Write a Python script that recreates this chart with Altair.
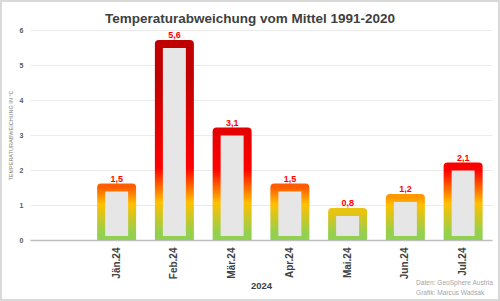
import altair as alt
import pandas as pd

months = ["Jän.24", "Feb.24", "Mär.24", "Apr.24", "Mai.24", "Jun.24", "Jul.24"]
values = [1.5, 5.6, 3.1, 1.5, 0.8, 1.2, 2.1]
domain = [""] + months
y_ticks = [0, 1, 2, 3, 4, 5, 6]
credits = ["Daten: GeoSphere Austria", "Grafik: Marcus Wadsak"]

# absolute colour stops of the bar gradient (value in °C -> colour)
color_stops = [(0.2, "#92d050"), (1.1, "#ffc000"), (2.1, "#ff0000"), (4.8, "#c00000")]

FONT = "Liberation Sans"
PX_PER_UNIT = 210 / 6.0


def hex2rgb(h):
    return tuple(int(h[i:i + 2], 16) for i in (1, 3, 5))


def rgb2hex(c):
    return "#%02x%02x%02x" % tuple(int(round(v)) for v in c)


def color_at(v):
    if v <= color_stops[0][0]:
        return color_stops[0][1]
    if v >= color_stops[-1][0]:
        return color_stops[-1][1]
    for (a0, c0), (a1, c1) in zip(color_stops, color_stops[1:]):
        if a0 <= v <= a1:
            t = (v - a0) / (a1 - a0)
            r0, r1 = hex2rgb(c0), hex2rgb(c1)
            return rgb2hex([r0[i] + (r1[i] - r0[i]) * t for i in range(3)])


def gradient_for(v):
    top = v + 4 / PX_PER_UNIT
    stops = [{"offset": 0, "color": color_at(0)}]
    for a, c in color_stops:
        if 0 < a < top:
            stops.append({"offset": a / top, "color": c})
    stops.append({"offset": 1, "color": color_at(top)})
    return alt.LinearGradient(gradient="linear", x1=0, x2=0, y1=1, y2=0, stops=stops)


df = pd.DataFrame({"month": months, "value": values})

x_enc = alt.X(
    "month:N",
    scale=alt.Scale(domain=domain, paddingInner=0.31, paddingOuter=0.155),
    sort=domain,
    axis=alt.Axis(
        title="2024",
        labelAngle=-90,
        labelFontSize=10,
        labelFontWeight="bold",
        labelColor="#404040",
        labelFont=FONT,
        labelPadding=7,
        ticks=False,
        domainColor="#bfbfbf",
        domainWidth=1.5,
        titleFont=FONT,
        titleFontSize=9.5,
        titleFontWeight="bold",
        titleColor="#404040",
        titlePadding=2,
    ),
)
y_enc = alt.Y(
    "value:Q",
    scale=alt.Scale(domain=[0, 6], nice=False),
    axis=alt.Axis(
        title="TEMPERATURABWEICHUNG IN °C",
        values=y_ticks,
        labelFontSize=7,
        labelFontWeight="bold",
        labelColor="#595959",
        labelFont=FONT,
        labelPadding=7,
        domain=False,
        ticks=False,
        gridColor="#ebebeb",
        titleFont=FONT,
        titleFontSize=5.5,
        titleFontWeight="normal",
        titleColor="#7f7f7f",
        titlePadding=6,
    ),
)

base = alt.Chart(df)

layers = []
for m, v in zip(months, values):
    layers.append(
        base.transform_filter(alt.datum.month == m)
        .mark_bar(
            fill="#e6e6e6",
            stroke=gradient_for(v),
            strokeWidth=8,
            strokeJoin="round",
            size=31,
            clip=True,
        )
        .encode(x=x_enc, y=y_enc)
    )

labels = (
    base.transform_calculate(lbl="replace(format(datum.value, '.1f'), '.', ',')")
    .mark_text(
        color="#ff0000",
        font=FONT,
        fontSize=9,
        fontWeight="bold",
        baseline="alphabetic",
        dy=-6,
    )
    .encode(x=x_enc, y=y_enc, text="lbl:N")
)

one = pd.DataFrame({"a": [0]})
credit_layers = []
for txt, ypos in zip(credits, [253, 263]):
    credit_layers.append(
        alt.Chart(one)
        .mark_text(
            text=txt, align="left", baseline="middle", font=FONT, fontSize=6.6, color="#a6a6a6"
        )
        .encode(x=alt.value(386), y=alt.value(ypos))
    )

frame = (
    alt.Chart(one)
    .mark_rect(fill="transparent", stroke="#d9d9d9", strokeWidth=2)
    .encode(x=alt.value(-29), x2=alt.value(469), y=alt.value(-29), y2=alt.value(270))
)

chart = (
    alt.layer(*layers, labels, *credit_layers, frame)
    .properties(
        width=462,
        height=210,
        autosize=alt.AutoSizeParams(type="none"),
        padding={"left": 30, "top": 30, "right": 8, "bottom": 61},
        background="white",
        title=alt.TitleParams(
            "Temperaturabweichung vom Mittel 1991-2020",
            font=FONT,
            fontSize=13.5,
            fontWeight="bold",
            color="#404040",
            anchor="middle",
            frame="group",
            baseline="alphabetic",
            offset=-36.5,
            dx=-11,
        ),
    )
    .configure_view(stroke=None)
)

chart.save("out.html", embed_options={"renderer": "svg", "actions": False})
